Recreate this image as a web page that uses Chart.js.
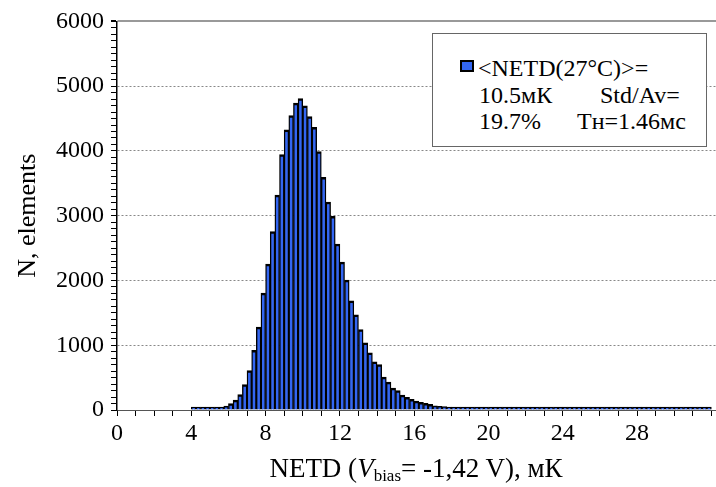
<!DOCTYPE html>
<html>
<head>
<meta charset="utf-8">
<script src="https://cdn.jsdelivr.net/npm/chart.js@4.4.1/dist/chart.umd.min.js"></script>
<style>
  html, body { margin: 0; padding: 0; background: #fff; overflow: hidden; }
  #wrap { position: relative; width: 716px; height: 487px; font-family: 'Liberation Serif', 'Times New Roman', serif; color: #000; }
  #netd { position: absolute; left: 0; top: 0; }
  .legend { position: absolute; left: 432px; top: 33px; width: 273px; height: 112px; border: 1px solid #666; background: #fff; }
  .legend span { position: absolute; font-size: 24px; line-height: 26px; white-space: nowrap; }
  .legend .swatch { width: 10px; height: 8px; border: 2px solid #000; }
  .xtitle { position: absolute; left: 116px; width: 600px; top: 454px; text-align: center; font-size: 27px; line-height: 28px; white-space: nowrap; }
  .xtitle sub { font-size: 17px; vertical-align: -4px; line-height: 0; }
</style>
</head>
<body>
<div id="wrap">
  <canvas id="netd" width="716" height="487"></canvas>
  <div class="legend">
    <span class="swatch" id="swatch" style="left:27px; top:26px;"></span>
    <span style="left:45px; top:21px;">&lt;NETD(27°C)&gt;=</span>
    <span style="left:46px; top:48px;">10.5мК</span>
    <span style="left:167px; top:48px;">Std/Av=</span>
    <span style="left:46px; top:74px;">19.7%</span>
    <span style="left:144px; top:74px;">Тн=1.46мс</span>
  </div>
  <div class="xtitle">NETD (<i>V</i><sub>bias</sub>= -1,42 V), мК</div>
</div>
<script>
// NETD histogram, 0.25 mK bins starting at 4 mK.
const binStart = 4;
const binWidth = 0.25;

// element counts per bin, two mK per row
const counts = [
  2, 3, 4, 6, 9, 14, 25, 62,                          // 4 – 6
  100, 152, 238, 392, 610, 920, 1280, 1805,           // 6 – 8
  2252, 2753, 3318, 3944, 4326, 4545, 4738, 4809,     // 8 – 10
  4697, 4529, 4366, 3990, 3593, 3211, 2992, 2563,     // 10 – 12
  2283, 2005, 1684, 1469, 1240, 1036, 884, 745,       // 12 – 14
  700, 508, 430, 338, 300, 230, 195, 163,             // 14 – 16
  138, 118, 102, 86, 66, 58, 52, 46,                  // 16 – 18
  42, 38, 33, 30, 27, 24, 22, 20,                     // 18 – 20
  18, 16, 15, 14, 13, 12, 11, 10,                     // 20 – 22
  9, 9, 8, 8, 7, 7, 6, 6,                             // 22 – 24
  6, 5, 5, 5, 4, 4, 4, 4,                             // 24 – 26
  3, 3, 3, 3, 3, 3, 3, 2,                             // 26 – 28
  2, 2, 2, 2, 2, 3, 5, 6,                             // 28 – 30
  4, 2, 1, 1, 1, 1, 1, 1                              // 30 – 32
];

const xLabelEvery = 4;     // mK between labelled x ticks
const xLastLabel = 28;
const yLabelEvery = 1000;  // elements between labelled y ticks
const yTop = 6000;

const barBlue = '#3366f2';

const bins = counts.map((n, i) => ({ x: binStart + binWidth * (i + 0.5), y: n }));

const chart = new Chart(document.getElementById('netd').getContext('2d'), {
  type: 'bar',
  data: {
    datasets: [{
      label: '<NETD(27°C)>=',
      data: bins,
      backgroundColor: barBlue,
      borderColor: '#000',
      borderWidth: { top: 2.5, left: 1.4, right: 1.4, bottom: 0 },
      barPercentage: 1,
      categoryPercentage: 1,
      minBarLength: 3
    }]
  },
  options: {
    responsive: false,
    animation: false,
    devicePixelRatio: 1,
    layout: { padding: { top: 18, right: 0, bottom: 0, left: 0 } },
    plugins: {
      legend: { display: false },
      tooltip: { enabled: false }
    },
    scales: {
      x: {
        type: 'linear',
        min: 0,
        max: 32.25,
        offset: false,
        ticks: {
          stepSize: 1,
          autoSkip: false,
          maxRotation: 0,
          includeBounds: false,
          maxTicksLimit: 60,
          padding: 3,
          color: '#000',
          font: { family: "'Liberation Serif', serif", size: 24 },
          callback: v => (v % xLabelEvery === 0 && v <= xLastLabel ? String(v) : '')
        },
        grid: { drawOnChartArea: false, offset: false, tickLength: 6, tickColor: '#000' },
        border: { color: '#555', width: 1 },
        afterFit: s => { s.height = 77; }
      },
      y: {
        min: 0,
        max: yTop,
        ticks: {
          stepSize: 100,
          autoSkip: false,
          maxTicksLimit: 100,
          padding: 7,
          color: '#000',
          font: { family: "'Liberation Serif', serif", size: 24 },
          callback: v => (v % yLabelEvery === 0 ? String(v) : '')
        },
        grid: {
          color: c => {
            if (!c.tick) return 'rgba(0,0,0,0)';
            const v = c.tick.value;
            if (v === yTop) return '#999';
            return (v > 0 && v % yLabelEvery === 0) ? '#888' : 'rgba(0,0,0,0)';
          },
          lineWidth: c => (c.tick && c.tick.value === yTop ? 2 : 1),
          tickLength: 6,
          tickColor: '#000',
          tickBorderDash: []
        },
        border: {
          color: '#000',
          width: 1.5,
          dash: c => (c.tick && c.tick.value !== yTop ? [2, 2] : [])
        },
        title: {
          display: true,
          text: 'N, elements',
          color: '#000',
          font: { family: "'Liberation Serif', serif", size: 26 },
          padding: { top: 13, bottom: 0 }
        },
        afterFit: s => { s.width = 117; }
      }
    }
  }
});

// legend swatch takes the bar colour
document.getElementById('swatch').style.background = chart.data.datasets[0].backgroundColor;
</script>
</body>
</html>
